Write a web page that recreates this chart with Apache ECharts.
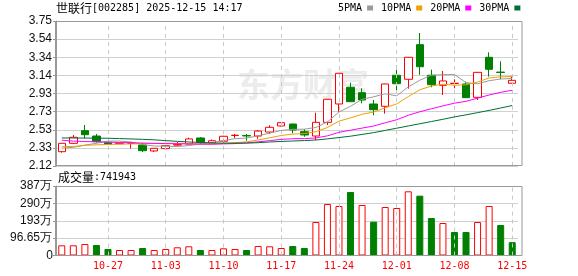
<!DOCTYPE html>
<html><head><meta charset="utf-8">
<script src="https://cdn.jsdelivr.net/npm/echarts/dist/echarts.min.js"></script>
<style>html,body{margin:0;padding:0;background:#fff}#c{width:578px;height:276px}</style>
</head><body><div id="c"></div>
<script>
const dates = ['10-21','10-22','10-23','10-24','10-27','10-28','10-29','10-30','10-31','11-03','11-04','11-05','11-06','11-07','11-10','11-11','11-12','11-13','11-14','11-17','11-18','11-19','11-20','11-21','11-24','11-25','11-26','11-27','11-28','12-01','12-02','12-03','12-04','12-05','12-08','12-09','12-10','12-11','12-12','12-15'];
const opens  = [2.281,2.375,2.517,2.457,2.382,2.370,2.375,2.356,2.289,2.315,2.355,2.367,2.435,2.379,2.398,2.463,2.462,2.457,2.502,2.570,2.592,2.506,2.457,2.611,2.817,3.005,2.944,2.817,2.791,3.140,3.095,3.484,3.140,3.027,3.048,3.042,2.892,3.342,3.176,3.050];
const closes = [2.375,2.443,2.472,2.393,2.364,2.376,2.378,2.292,2.319,2.348,2.360,2.424,2.386,2.404,2.454,2.466,2.458,2.513,2.555,2.607,2.525,2.469,2.611,2.870,3.162,2.843,2.862,2.753,3.042,3.045,3.342,3.236,3.034,3.076,3.050,2.888,3.173,3.207,3.171,3.083];
const lows   = [2.270,2.366,2.431,2.382,2.360,2.368,2.317,2.277,2.277,2.303,2.350,2.365,2.367,2.378,2.382,2.435,2.404,2.427,2.483,2.565,2.488,2.449,2.412,2.581,2.730,2.840,2.825,2.690,2.708,2.960,2.989,3.146,3.005,2.918,2.993,2.885,2.862,3.124,3.095,3.048];
const highs  = [2.377,2.468,2.581,2.480,2.390,2.385,2.380,2.382,2.320,2.350,2.390,2.438,2.446,2.418,2.460,2.480,2.480,2.525,2.578,2.612,2.595,2.533,2.719,2.872,3.165,3.056,2.993,2.862,3.045,3.248,3.345,3.615,3.203,3.188,3.095,3.068,3.175,3.398,3.297,3.132];
const ma5  = [2.320,2.330,2.355,2.375,2.400,2.400,2.390,2.360,2.345,2.342,2.339,2.350,2.367,2.384,2.406,2.427,2.434,2.459,2.489,2.520,2.532,2.534,2.553,2.616,2.727,2.791,2.870,2.898,2.932,2.909,3.009,3.084,3.140,3.147,3.148,3.057,3.044,3.079,3.098,3.104];
const ma10 = [2.337,2.340,2.352,2.358,2.362,2.366,2.368,2.370,2.373,2.376,2.374,2.373,2.364,2.365,2.374,2.383,2.391,2.413,2.437,2.463,2.479,2.484,2.506,2.553,2.624,2.661,2.702,2.726,2.774,2.818,2.900,2.977,3.019,3.040,3.028,3.033,3.064,3.109,3.122,3.126];
const ma20 = [2.410,2.400,2.395,2.393,2.388,2.384,2.382,2.378,2.375,2.372,2.370,2.368,2.367,2.366,2.368,2.372,2.380,2.392,2.405,2.419,2.427,2.428,2.435,2.459,2.499,2.522,2.546,2.569,2.606,2.640,2.690,2.730,2.763,2.796,2.826,2.847,2.883,2.918,2.948,2.972];
const ma30 = [2.435,2.435,2.434,2.433,2.432,2.428,2.424,2.420,2.414,2.405,2.397,2.390,2.385,2.380,2.377,2.376,2.377,2.382,2.390,2.396,2.401,2.406,2.412,2.425,2.440,2.455,2.475,2.495,2.520,2.545,2.570,2.595,2.620,2.645,2.672,2.695,2.720,2.745,2.772,2.800];
const volumes = [56.8,56.8,64,58.5,36.2,30.6,30.6,41.8,30.6,36.2,45.7,51.2,30.6,30.6,40,36.2,30.6,52.9,51.2,41.8,52.9,41.8,186.5,286.8,275.6,353.6,281.2,188.2,270,264.5,357.5,333,208.8,181,130.9,130.9,186.5,275.6,169.8,74.19];
const volumeUp = [1,1,1,0,0,1,1,0,1,1,1,1,0,1,1,1,0,1,1,1,0,0,1,1,1,0,1,0,1,1,1,0,0,1,0,0,1,1,0,0];
const priceTicks = ['2.12','2.33','2.53','2.73','2.93','3.14','3.34','3.54','3.75'];
const volumeTicks = ['0','96.65万','193万','290万','387万'];
const markedDates = ['10-27','11-03','11-10','11-17','11-24','12-01','12-08','12-15'];
const titleText = '世联行';
const titleCode = '[002285] 2025-12-15 14:17';
const volumeLabel = '成交量';
const volumeNow = ':741943';
const watermark = '东方财富';

const pMin = 2.12, pMax = 3.75, pStep = (pMax - pMin) / 8;
const vMax = 387, vStep = vMax / 4;
const RED = '#ff0000', GREEN = '#008000';
const volTop = 186, volH = 69.5;

const chart = echarts.init(document.getElementById('c'), null, {renderer: 'canvas'});
const vline = {
  silent: true, symbol: ['none', 'none'], label: {show: false},
  lineStyle: {type: [4, 4], color: '#c8c8c8', width: 1},
  data: markedDates.map(d => ({xAxis: d}))
};
const maSeries = (name, data, color) => ({
  name, type: 'line', data, xAxisIndex: 0, yAxisIndex: 0,
  symbol: 'none', smooth: false, z: 5,
  lineStyle: {color, width: 1}, itemStyle: {color}
});
const rich = {
  a: {fontFamily: 'Noto Sans CJK SC', fontSize: 12, fontWeight: 'normal', color: '#000', lineHeight: 14},
  b: {fontFamily: 'DejaVu Sans Mono', fontSize: 10, fontWeight: 'normal', color: '#000', lineHeight: 14}
};
const yLabelStyle = {color: '#111', fontFamily: 'Liberation Sans', fontSize: 12, margin: 4,
  showMinLabel: true, showMaxLabel: true, hideOverlap: false};

chart.setOption({
  animation: false,
  backgroundColor: '#fff',
  title: [
    {text: '{a|' + titleText + '}{b|' + titleCode + '}', left: 56, top: 1, padding: 0,
     textStyle: {fontWeight: 'normal', rich}},
    {text: '{a|' + volumeLabel + '}{b|' + volumeNow + '}', left: 58, top: 170, padding: 0,
     textStyle: {fontWeight: 'normal', rich}},
    {text: volumeTicks[0], right: 525, top: 249, padding: 0,
     textStyle: {fontWeight: 'normal', fontFamily: 'Liberation Sans', fontSize: 12, color: '#111', lineHeight: 13}}
  ],
  legend: {
    data: ['5PMA', '10PMA', '20PMA', '30PMA'],
    left: 338, top: 3, itemGap: 8, itemWidth: 6, itemHeight: 5,
    align: 'right', icon: 'rect', padding: 0,
    textStyle: {fontFamily: 'DejaVu Sans Mono', fontSize: 10, color: '#000', padding: [0, 0, 0, 0]}
  },
  graphic: [
    {type: 'text', z: 0, silent: true, style: {x: 237, y: 68, text: watermark,
      font: 'bold 33px "Noto Sans CJK SC"', fill: '#ececec'}},
    {type: 'rect', z: 20, silent: true, shape: {x: 55.5, y: 21.5, width: 466.5, height: 144},
      style: {fill: 'none', stroke: '#999', lineWidth: 1}},
    {type: 'rect', z: 20, silent: true, shape: {x: 55.5, y: 186.5, width: 466.5, height: 69},
      style: {fill: 'none', stroke: '#999', lineWidth: 1}}
  ],
  grid: [
    {left: 56, top: 21, width: 462, height: 145},
    {left: 56, top: volTop, width: 462, height: volH}
  ],
  xAxis: [
    {type: 'category', gridIndex: 0, data: dates, boundaryGap: true,
     axisLine: {show: false}, axisTick: {show: false}, axisLabel: {show: false}, splitLine: {show: false}},
    {type: 'category', gridIndex: 1, data: dates, boundaryGap: true,
     axisLine: {show: false}, axisTick: {show: false}, splitLine: {show: false},
     axisLabel: {show: true, color: RED, fontFamily: 'DejaVu Sans Mono', fontSize: 10, margin: 6,
       interval: (idx, val) => markedDates.includes(val)}}
  ],
  yAxis: [
    {type: 'value', gridIndex: 0, min: pMin, max: pMax, interval: pStep,
     axisLine: {show: true, lineStyle: {color: '#999'}},
     axisTick: {show: true, length: 3, lineStyle: {color: '#999'}},
     splitLine: {show: true, lineStyle: {color: '#d0d0d0', width: 1}},
     axisLabel: Object.assign({}, yLabelStyle, {
       formatter: v => priceTicks[Math.round((v - pMin) / pStep)] || ''})},
    {type: 'value', gridIndex: 1, min: 0, max: vMax, interval: vStep,
     axisLine: {show: true, lineStyle: {color: '#999'}},
     axisTick: {show: true, length: 3, lineStyle: {color: '#999'}},
     splitLine: {show: true, lineStyle: {color: '#d0d0d0', width: 1}},
     axisLabel: Object.assign({}, yLabelStyle, {
       formatter: v => v < 1 ? '' : (volumeTicks[Math.round(v / vStep)] || '')})}
  ],
  series: [
    {type: 'candlestick', name: 'K', xAxisIndex: 0, yAxisIndex: 0, barWidth: 8, z: 3,
     data: dates.map((d, i) => [opens[i], closes[i], lows[i], highs[i]]),
     itemStyle: {color: '#ffffff', color0: GREEN, borderColor: RED, borderColor0: GREEN, borderWidth: 1},
     markLine: vline},
    maSeries('5PMA', ma5, '#9a9a9a'),
    maSeries('10PMA', ma10, '#f0a000'),
    maSeries('20PMA', ma20, '#ff00ff'),
    maSeries('30PMA', ma30, '#006f35'),
    {type: 'bar', name: 'VOL', xAxisIndex: 1, yAxisIndex: 1, barWidth: 7,
     data: volumes.map((v, i) => ({value: v, itemStyle: volumeUp[i]
       ? {color: '#ffffff', borderColor: RED, borderWidth: 1}
       : {color: GREEN, borderColor: GREEN, borderWidth: 1}})),
     markLine: vline}
  ]
});
</script></body></html>
